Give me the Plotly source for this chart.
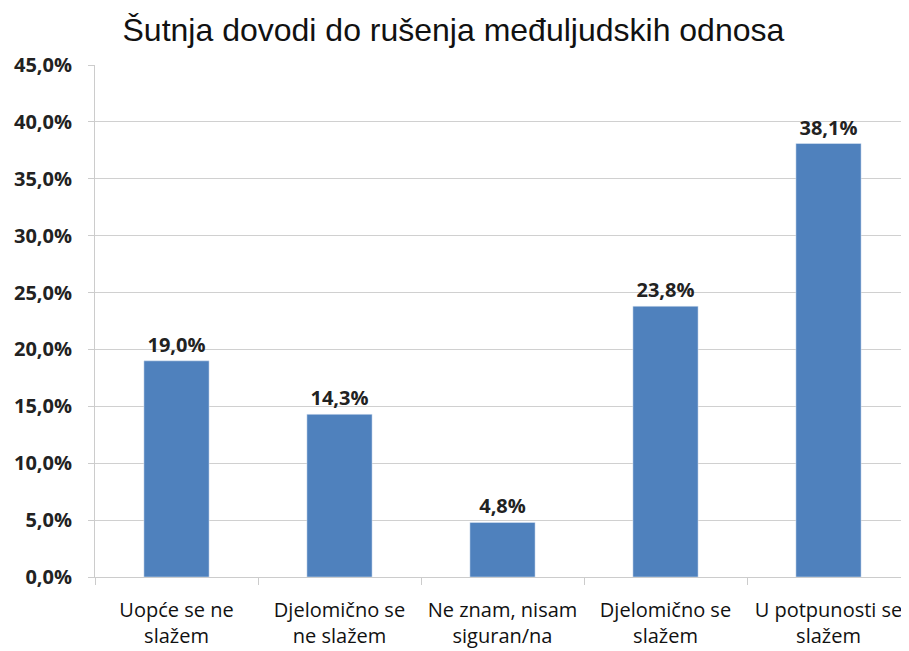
import plotly.graph_objects as go

categories = ["Uopće se ne<br>slažem", "Djelomično se<br>ne slažem", "Ne znam, nisam<br>siguran/na",
              "Djelomično se<br>slažem", "U potpunosti se<br>slažem"]
values = [19.0, 14.3, 4.8, 23.8, 38.1]
labels = ["19,0%", "14,3%", "4,8%", "23,8%", "38,1%"]
tick_vals = [0, 5, 10, 15, 20, 25, 30, 35, 40, 45]
tick_text = ["0,0%", "5,0%", "10,0%", "15,0%", "20,0%", "25,0%", "30,0%", "35,0%", "40,0%", "45,0%"]
title = "Šutnja dovodi do rušenja međuljudskih odnosa"

fig = go.Figure(go.Bar(
    x=categories, y=values, text=labels, textposition="outside",
    textfont=dict(family="Open Sans", size=20, color="#222222", weight="bold"),
    marker=dict(color="#4F81BD"), cliponaxis=False,
))

fig.update_layout(
    width=909, height=651,
    paper_bgcolor="white", plot_bgcolor="white",
    margin=dict(l=87, r=7, t=57, b=82, autoexpand=False),
    bargap=0.6,
    showlegend=False,
    title=dict(text=title, x=0.49, xanchor="center", y=1 - 22 / 651, yanchor="middle",
               font=dict(family="Liberation Sans", size=32, color="#111111")),
    font=dict(family="Open Sans", color="#222222"),
)
fig.update_yaxes(
    range=[0, 45], tickvals=tick_vals, ticktext=tick_text,
    tickfont=dict(family="Open Sans", size=20, color="#222222", weight="bold"),
    showgrid=True, gridcolor="#d0d0d0", gridwidth=1,
    showline=True, linecolor="#cccccc", linewidth=1,
    ticks="outside", ticklen=6, tickcolor="#cccccc", zeroline=False,
    ticklabelstandoff=12, automargin=False,
)
fig.update_xaxes(
    tickfont=dict(family="Open Sans", size=20, color="#111111"),
    showline=True, linecolor="#cccccc", linewidth=1,
    ticks="outside", ticklen=7, tickcolor="#cccccc", tickson="boundaries",
    showgrid=False, ticklabelstandoff=15, tickangle=0, automargin=False,
)

fig.write_html("out.html")
